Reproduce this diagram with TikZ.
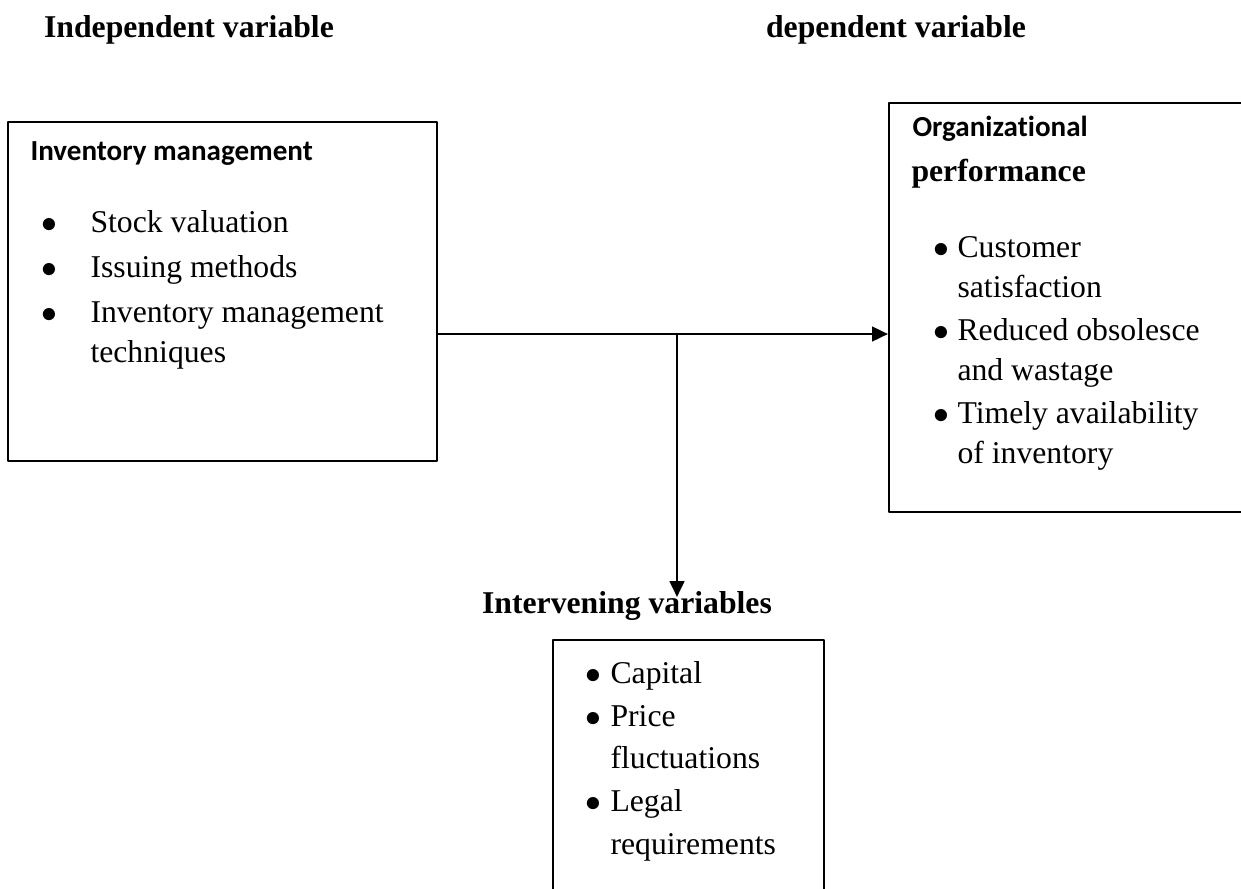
\documentclass[tikz,border=0pt]{standalone}
\usepackage{fontspec}
\setmainfont{Liberation Serif}
\newfontfamily\calibri[Ligatures=NoCommon]{Carlito}
\usetikzlibrary{arrows.meta}
\begin{document}
\begin{tikzpicture}[x=0.3785pt,y=-0.3785pt,line join=round,>={Triangle[length=6pt,width=5.5pt]},
    box/.style={draw,line width=0.8pt,inner sep=0pt},
    txt/.style={anchor=base west,inner sep=0pt,font=\fontsize{12}{14}\selectfont},
    hd/.style={anchor=base,inner sep=0pt,font=\fontsize{12}{14}\selectfont\bfseries},
    cal/.style={anchor=base west,inner sep=0pt,font=\calibri\fontsize{11}{13}\selectfont\bfseries}]
  \useasboundingbox (0,0) rectangle (1241,888);
  \clip (0,0) rectangle (1241,888);
  % headings
  \node[hd] (indep) at (189,37) {Independent variable};
  \node[hd] (dep) at (896,37) {dependent variable};
  \node[hd] (interv) at (627,613) {Intervening variables};
  % boxes
  \node[box,minimum width=162.4pt,minimum height=128.3pt] (invbox) at (222.5,291.5) {};
  \node[box,minimum width=140.4pt,minimum height=154.8pt] (orgbox) at (1074.5,307.5) {};
  \node[box,minimum width=102.6pt,minimum height=102.2pt] (capbox) at (688.5,775) {};
  % box titles
  \node[cal] (invtitle) at (30,160) {Inventory management};
  \node[cal] (orgtitle) at (912,136) {Organizational};
  \node[txt,font=\fontsize{12}{14}\selectfont\bfseries] (orgperf) at (911,181) {performance};
  % independent variable items
  \foreach \y/\t [count=\i] in {232/Stock valuation,277/Issuing methods,322/Inventory management,362/techniques}
    \node[txt] (invl\i) at (90,\y) {\t};
  \foreach \y [count=\i] in {232,277,322}
    \node[txt] (invd\i) at (41,\y) {$\bullet$};
  % dependent variable items
  \foreach \y/\t [count=\i] in {257/Customer,297/satisfaction,340/Reduced obsolesce,380/and wastage,423/Timely availability,463/of inventory}
    \node[txt] (orgl\i) at (957,\y) {\t};
  \foreach \y [count=\i] in {257,340,423}
    \node[txt] (orgd\i) at (933,\y) {$\bullet$};
  % intervening variable items
  \foreach \y/\t [count=\i] in {683/Capital,726/Price,768/fluctuations,811/Legal,854/requirements}
    \node[txt] (capl\i) at (610,\y) {\t};
  \foreach \y [count=\i] in {683,726,811}
    \node[txt] (capd\i) at (585,\y) {$\bullet$};
  % connectors
  \coordinate (split) at (677,334);
  \coordinate (tip) at (677,597);
  \draw[line width=1pt] (invbox.east |- split) -- (split);
  \draw[->,line width=1pt] (split) -- (orgbox.west |- split);
  \draw[->,line width=1pt] (split) -- (tip);
\end{tikzpicture}
\end{document}
